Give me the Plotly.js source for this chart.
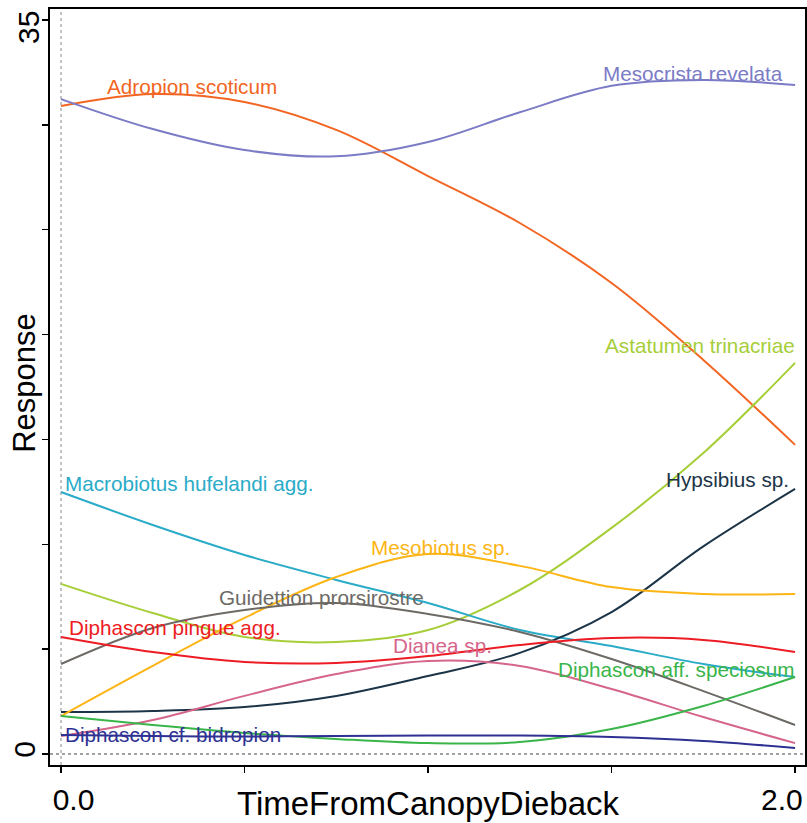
<!DOCTYPE html>
<html>
<head>
<meta charset="utf-8">
<script src="https://cdn.plot.ly/plotly-3.0.1.min.js"></script>
<style>html,body{margin:0;padding:0;background:#fff;}#chart{width:807px;height:823px;}</style>
</head>
<body>
<div id="chart"></div>
<script>
// Time since canopy dieback (x) at which response values were read
var timeVals = [0, 0.25, 0.5, 0.75, 1.0, 1.25, 1.5, 1.75, 2.0];

// Species names
var species = [
  "Adropion scoticum",
  "Mesocrista revelata",
  "Astatumen trinacriae",
  "Macrobiotus hufelandi agg.",
  "Hypsibius sp.",
  "Mesobiotus sp.",
  "Guidettion prorsirostre",
  "Diphascon pingue agg.",
  "Dianea sp.",
  "Diphascon aff. speciosum",
  "Diphascon cf. bidropion"
];

// Response values per species
var adropionScoticum      = [30.90, 31.47, 31.09, 29.76, 27.56, 25.32, 22.46, 18.79, 14.74];
var mesocristaRevelata    = [31.23, 29.80, 28.80, 28.50, 29.18, 30.60, 31.86, 32.14, 31.90];
var astatumenTrinacriae   = [8.11, 6.72, 5.58, 5.34, 5.91, 7.82, 10.78, 14.35, 18.65];
var macrobiotusHufelandi  = [12.49, 10.92, 9.49, 8.30, 7.20, 5.91, 5.15, 4.29, 3.67];
var hypsibiusSp           = [2.00, 2.05, 2.24, 2.77, 3.72, 4.82, 6.77, 9.90, 12.64];
var mesobiotusSp          = [1.81, 4.20, 6.49, 8.44, 9.54, 8.97, 7.96, 7.63, 7.63];
var guidettionProrsirostre= [4.29, 6.01, 6.87, 7.20, 6.68, 5.82, 4.53, 3.00, 1.38];
var diphasconPingue       = [5.58, 4.86, 4.39, 4.34, 4.67, 5.20, 5.53, 5.44, 4.86];
var dianeaSp              = [0.86, 1.62, 2.77, 3.81, 4.43, 4.20, 3.10, 1.76, 0.52];
var diphasconSpeciosum    = [1.81, 1.38, 1.00, 0.72, 0.52, 0.57, 1.19, 2.29, 3.67];
var diphasconBidropion    = [0.91, 0.86, 0.83, 0.86, 0.88, 0.88, 0.81, 0.62, 0.29];

var seriesValues = [adropionScoticum, mesocristaRevelata, astatumenTrinacriae, macrobiotusHufelandi,
  hypsibiusSp, mesobiotusSp, guidettionProrsirostre, diphasconPingue, dianeaSp,
  diphasconSpeciosum, diphasconBidropion];

var colors = ["#F26522", "#7B7BC6", "#A6CE39", "#2AABC8", "#1C3447", "#FDB515",
  "#6D6A66", "#ED1C24", "#D6658C", "#39B54A", "#2E3192"];

// Label placement (data coords) and anchor
var labelX = [0.12, 1.973, 2.005, 0.005, 1.989, 0.839, 0.425, 0.016, 0.899, 2.005, 0.005];
var labelY = [31.81, 32.47, 19.50, 12.92, 13.11, 9.87, 7.44, 6.01, 5.15, 4.01, 0.95];
var labelAnchor = ["left", "right", "right", "left", "right", "left", "left", "left", "left", "right", "left"];

// Axis ticks
var xTickVals = [0, 0.5, 1.0, 1.5, 2.0];
var xTickText = ["\u00A0\u00A0\u00A00.0", "", "", "", ""];
var xEndLabel = "2.0";
var yTickVals = [0, 5, 10, 15, 20, 25, 30, 35];
var yTickText = ["0", "", "", "", "", "", "", ""];
var yTopLabel = "35";

var traces = species.map(function (name, i) {
  return {
    x: timeVals,
    y: seriesValues[i],
    type: "scatter",
    mode: "lines",
    name: name,
    line: {color: colors[i], width: 2, shape: "spline", smoothing: 1},
    hoverinfo: "name+x+y"
  };
});

var annotations = species.map(function (name, i) {
  return {
    x: labelX[i], y: labelY[i], xref: "x", yref: "y",
    text: name, showarrow: false,
    xanchor: labelAnchor[i], yanchor: "middle",
    font: {family: "Liberation Sans, Arial, sans-serif", size: 20.7, color: colors[i]}
  };
});

// end tick labels kept inside the figure, as in the original
annotations.push({
  x: xTickVals[4], xref: "x", xshift: -13, y: 0, yref: "paper", yshift: -34,
  xanchor: "center", yanchor: "middle", text: xEndLabel, showarrow: false,
  font: {family: "Liberation Sans, Arial, sans-serif", size: 30, color: "#000"}
});
annotations.push({
  x: 0, xref: "paper", xshift: -22, y: yTickVals[7], yref: "y", yshift: -8,
  xanchor: "center", yanchor: "middle", text: yTopLabel, showarrow: false, textangle: -90,
  font: {family: "Liberation Sans, Arial, sans-serif", size: 30, color: "#000"}
});

annotations.push({
  x: 1.0, xref: "x", y: 0, yref: "paper", yshift: -38, yanchor: "middle",
  text: "TimeFromCanopyDieback", showarrow: false,
  font: {family: "Liberation Sans, Arial, sans-serif", size: 33, color: "#000"}
});
annotations.push({
  x: 0, xref: "paper", xshift: -25, y: 17.7, yref: "y", xanchor: "center", yanchor: "middle",
  text: "Response", showarrow: false, textangle: -90,
  font: {family: "Liberation Sans, Arial, sans-serif", size: 31, color: "#000"}
});

var layout = {
  width: 807, height: 823,
  margin: {l: 50, r: 2, t: 9, b: 58, pad: 0},
  paper_bgcolor: "#fff", plot_bgcolor: "#fff",
  showlegend: false,
  font: {family: "Liberation Sans, Arial, sans-serif", color: "#000"},
  xaxis: {
    range: [-0.030, 2.027], showgrid: false, zeroline: false,
    showline: true, linecolor: "#000", linewidth: 2, mirror: true,
    ticks: "outside", ticklen: 6, tickwidth: 1.5, tickcolor: "#000",
    tickmode: "array", tickvals: xTickVals, ticktext: xTickText,
    tickfont: {size: 30, color: "#000"}, ticklabelstandoff: 1
  },
  yaxis: {
    range: [-0.525, 35.525], showgrid: false, zeroline: false,
    showline: true, linecolor: "#000", linewidth: 2, mirror: true,
    ticks: "outside", ticklen: 6, tickwidth: 1.5, tickcolor: "#000",
    tickmode: "array", tickvals: yTickVals, ticktext: yTickText,
    tickangle: -90, tickfont: {size: 30, color: "#000"},
    ticklabelstandoff: -5
  },
  shapes: [
    {type: "line", xref: "x", yref: "paper", x0: 0, x1: 0, y0: 0, y1: 1,
     line: {color: "#888", width: 1, dash: "dot"}, layer: "below"},
    {type: "line", xref: "paper", yref: "y", x0: 0, x1: 1, y0: 0, y1: 0,
     line: {color: "#444", width: 1, dash: "dot"}, layer: "below"}
  ],
  annotations: annotations
};

Plotly.newPlot("chart", traces, layout, {displayModeBar: false, staticPlot: true});
</script>
</body>
</html>
